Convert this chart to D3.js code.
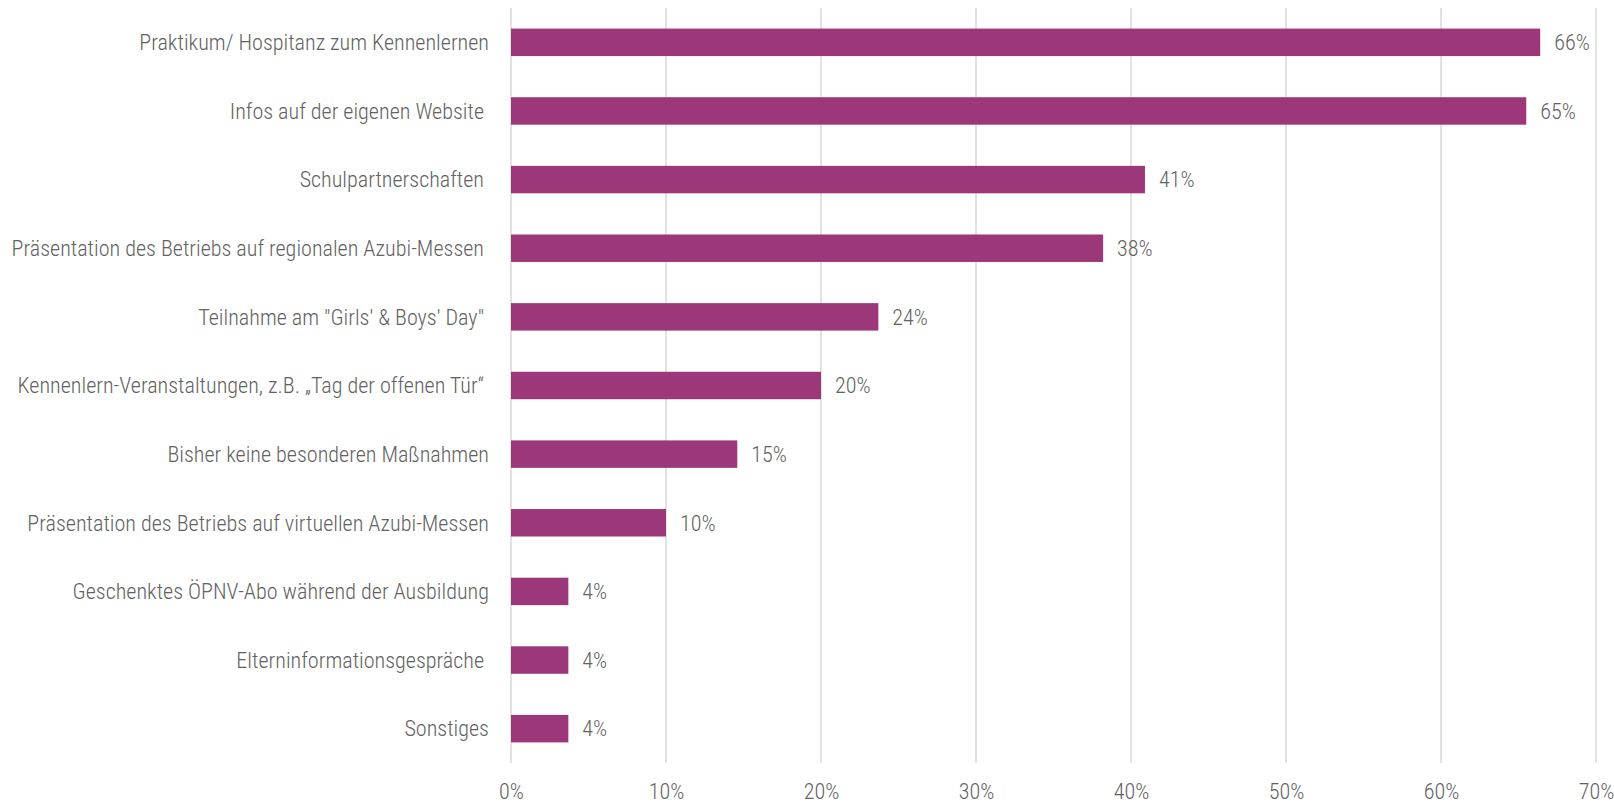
<!DOCTYPE html>
<html><head><meta charset="utf-8">
<script src="https://cdn.jsdelivr.net/npm/d3@7"></script>
<style>
html,body{margin:0;padding:0;background:#fff;}
svg text{font-family:"Liberation Sans Narrow","Arial Narrow","Roboto Condensed","Liberation Sans",sans-serif;fill:#626262;font-weight:300;}
</style></head>
<body><svg id="chart" width="1614" height="805"></svg>
<script>
const categories = [
  "Praktikum/ Hospitanz zum Kennenlernen",
  "Infos auf der eigenen Website ",
  "Schulpartnerschaften ",
  "Präsentation des Betriebs auf regionalen Azubi-Messen ",
  "Teilnahme am \"Girls' & Boys' Day\" ",
  "Kennenlern-Veranstaltungen, z.B. „Tag der offenen Tür“ ",
  "Bisher keine besonderen Maßnahmen",
  "Präsentation des Betriebs auf virtuellen Azubi-Messen",
  "Geschenktes ÖPNV-Abo während der Ausbildung",
  "Elterninformationsgespräche ",
  "Sonstiges"
];
const values = [0.664, 0.655, 0.409, 0.382, 0.237, 0.200, 0.146, 0.100, 0.037, 0.037, 0.037];
const valueLabels = ["66%","65%","41%","38%","24%","20%","15%","10%","4%","4%","4%"];
const ticks = [0, 0.1, 0.2, 0.3, 0.4, 0.5, 0.6, 0.7];

const svg = d3.select("#chart");
const x = d3.scaleLinear().domain([0, 0.7]).range([511, 1596]);
const y = d3.scaleBand().domain(categories).range([8, 763]).paddingInner(0.6).paddingOuter(0.3);
const fs = 22.1;

// gridlines
svg.append("g").selectAll("line").data(ticks).join("line")
  .attr("x1", d => x(d)).attr("x2", d => x(d))
  .attr("y1", 8).attr("y2", 763)
  .attr("stroke", "#d9d9d9").attr("stroke-width", 1.5);

// x axis labels
const xAxis = d3.axisBottom(x).tickValues(ticks).tickFormat(d3.format(".0%")).tickSize(0).tickPadding(0);
const gx = svg.append("g").attr("transform", "translate(0,783)").call(xAxis);
gx.select(".domain").remove();
gx.selectAll("text").attr("font-size", fs).attr("dy", "0.72em").style("font-family", null);

// bars
svg.append("g").selectAll("rect").data(values).join("rect")
  .attr("x", x(0))
  .attr("y", (d, i) => y(categories[i]))
  .attr("width", d => x(d) - x(0))
  .attr("height", y.bandwidth())
  .attr("fill", "#9c3779");

// value labels
svg.append("g").selectAll("text").data(values).join("text")
  .attr("x", d => x(d) + 14)
  .attr("y", (d, i) => y(categories[i]) + y.bandwidth() / 2)
  .attr("dy", "0.35em")
  .attr("font-size", fs)
  .text((d, i) => valueLabels[i]);

// category labels
const yAxis = d3.axisLeft(y).tickSize(0).tickPadding(0);
const gy = svg.append("g").attr("transform", "translate(489,0)").call(yAxis);
gy.select(".domain").remove();
gy.selectAll("text").attr("font-size", fs).attr("dy", "0.35em").style("white-space", "pre").attr("xml:space", "preserve").style("font-family", null);
</script></body></html>
